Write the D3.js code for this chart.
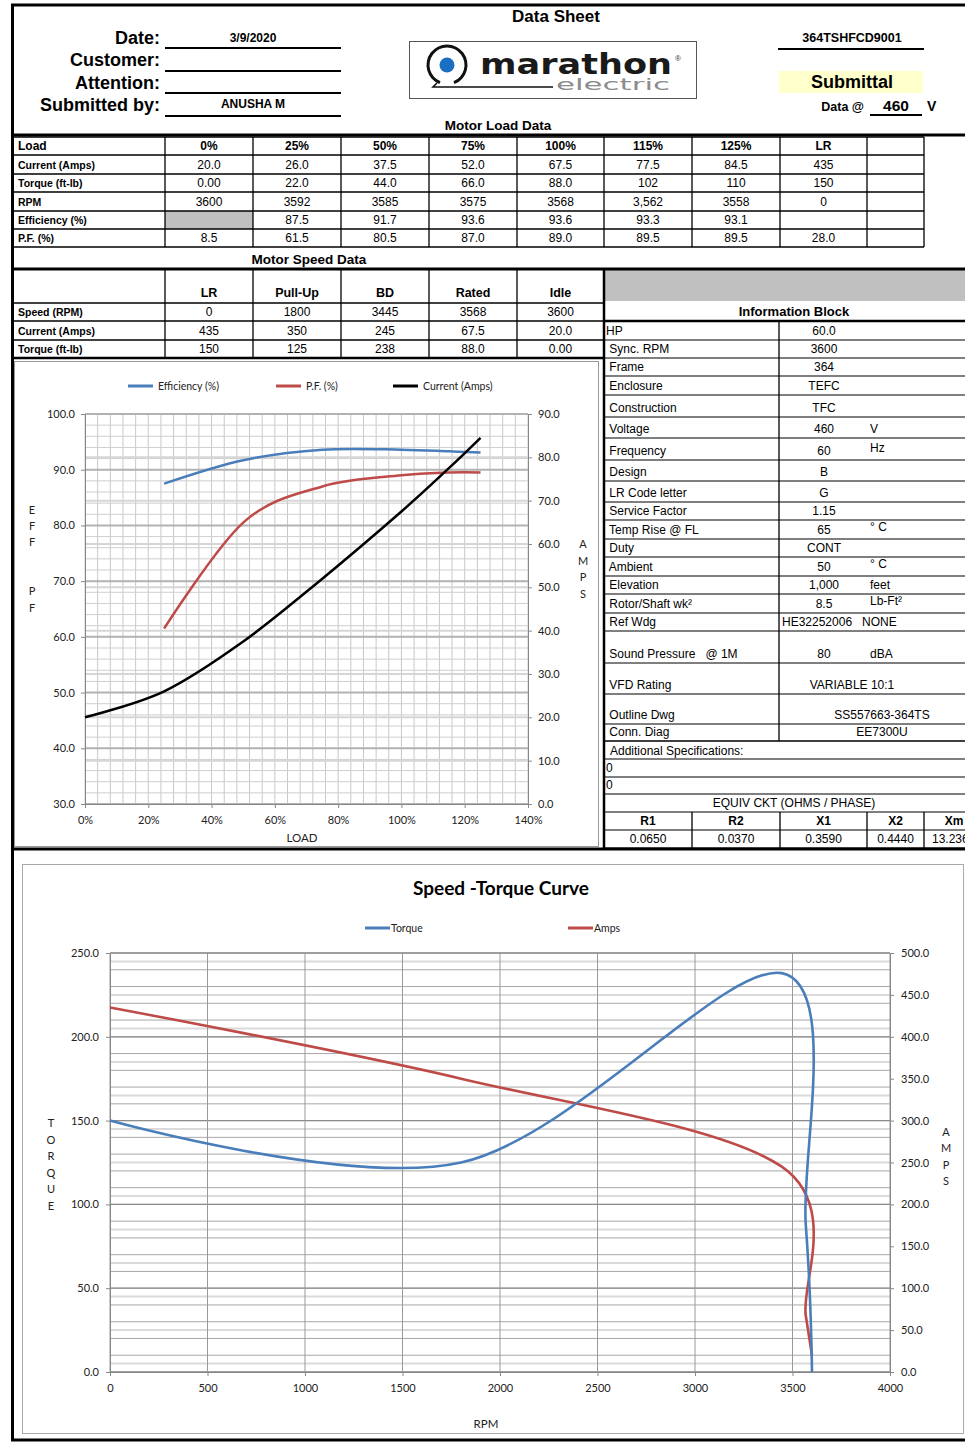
<!DOCTYPE html>
<html>
<head>
<meta charset="utf-8">
<script src="https://cdn.jsdelivr.net/npm/d3@7"></script>
<style>
  body { margin: 0; background: #fff; }
  svg { display: block; }
</style>
</head>
<body>
<div id="sheet"></div>
<script>
// header fields
var sheetDate = "3/9/2020";
var submittedBy = "ANUSHA M";
var modelNo = "364TSHFCD9001";
var dataVolts = "460";

// motor load data (table strings, charts read them as numbers)
var loadCols = ["0%", "25%", "50%", "75%", "100%", "115%", "125%", "LR"];
var loadFrac = [0, 0.25, 0.5, 0.75, 1.0, 1.15, 1.25, null];
var loadCurrent = ["20.0", "26.0", "37.5", "52.0", "67.5", "77.5", "84.5", "435"];
var loadTorque = ["0.00", "22.0", "44.0", "66.0", "88.0", "102", "110", "150"];
var loadRpm = ["3600", "3592", "3585", "3575", "3568", "3,562", "3558", "0"];
var loadEff = ["", "87.5", "91.7", "93.6", "93.6", "93.3", "93.1", ""];
var loadPF = ["8.5", "61.5", "80.5", "87.0", "89.0", "89.5", "89.5", "28.0"];

// motor speed data
var speedCols = ["LR", "Pull-Up", "BD", "Rated", "Idle"];
var speedRpm = ["0", "1800", "3445", "3568", "3600"];
var speedAmps = ["435", "350", "245", "67.5", "20.0"];
var speedTorque = ["150", "125", "238", "88.0", "0.00"];

// information block
var infoLabels = ["HP", " Sync. RPM", " Frame", " Enclosure", " Construction", " Voltage", " Frequency", " Design",
  " LR Code letter", " Service Factor", " Temp Rise @ FL", " Duty", " Ambient", " Elevation", " Rotor/Shaft wk\u00b2",
  " Ref Wdg", " Sound Pressure   @ 1M", " VFD Rating", " Outline Dwg", " Conn. Diag"];
var infoValues = ["60.0", "3600", "364", "TEFC", "TFC", "460", "60", "B", "G", "1.15", "65", "CONT", "50", "1,000", "8.5",
  "HE32252006   NONE", "80", "VARIABLE 10:1", "SS557663-364TS", "EE7300U"];
var infoUnits = ["", "", "", "", "", "V", "Hz", "", "", "", "\u00b0 C", "", "\u00b0 C", "feet", "Lb-Ft\u00b2", "", "dBA", "", "", ""];
var extraSpecs = ["0", "0"];
var ckLabels = ["R1", "R2", "X1", "X2", "Xm"];
var ckValues = ["0.0650", "0.0370", "0.3590", "0.4440", "13.236"];

// chart ticks
var effTicks = [30, 40, 50, 60, 70, 80, 90, 100];
var amp1Ticks = [0, 10, 20, 30, 40, 50, 60, 70, 80, 90];
var loadTicks = [0, 0.2, 0.4, 0.6, 0.8, 1.0, 1.2, 1.4];
var torqueTicks = [0, 50, 100, 150, 200, 250];
var amp2Ticks = [0, 50, 100, 150, 200, 250, 300, 350, 400, 450, 500];
var rpmTicks = [0, 500, 1000, 1500, 2000, 2500, 3000, 3500, 4000];

var W = 965, H = 1442;
var narrow = "'Liberation Sans Narrow','Arial Narrow',sans-serif";
var arial = "'Liberation Sans',Arial,sans-serif";
var calib = "Lato,'Open Sans',sans-serif";
var blue = "#4a7ebb", red = "#be4b48";

var svg = d3.select("#sheet").append("svg")
  .attr("width", W)
  .attr("height", H);

function txt(g, x, y, s, o) {
  o = o || {};
  return g.append("text")
    .attr("x", x).attr("y", y)
    .attr("text-anchor", o.anchor || "start")
    .attr("font-family", o.font || narrow)
    .attr("font-size", o.size || 12)
    .attr("font-weight", o.bold ? "bold" : "normal")
    .attr("fill", o.fill || "#000")
    .text(s);
}

function hline(g, x1, x2, y, w, c) {
  g.append("line").attr("x1", x1).attr("x2", x2).attr("y1", y).attr("y2", y)
    .attr("stroke", c || "#000").attr("stroke-width", w || 1);
}
function vline(g, x, y1, y2, w, c) {
  g.append("line").attr("x1", x).attr("x2", x).attr("y1", y1).attr("y2", y2)
    .attr("stroke", c || "#000").attr("stroke-width", w || 1);
}

// ---------------- header ----------------
var hd = svg.append("g");
txt(hd, 556, 22, "Data Sheet", { anchor: "middle", size: 17, bold: true });
[["Date:", 44, 48], ["Customer:", 66, 71], ["Attention:", 89, 93], ["Submitted by:", 111, 116]].forEach(function(r) {
  txt(hd, 160, r[1], r[0], { anchor: "end", size: 18, bold: true });
  hline(hd, 165, 341, r[2], 2);
});
txt(hd, 253, 42, sheetDate, { anchor: "middle", size: 12, bold: true });
txt(hd, 253, 108, submittedBy, { anchor: "middle", size: 12, bold: true });

txt(hd, 852, 42, modelNo, { anchor: "middle", size: 12.5, bold: true });
hline(hd, 778, 924, 49, 2);
hd.append("rect").attr("x", 779).attr("y", 71).attr("width", 144).attr("height", 22).attr("fill", "#ffffcc");
txt(hd, 852, 88, "Submittal", { anchor: "middle", size: 18, bold: true });
txt(hd, 864, 111, "Data @", { anchor: "end", size: 12.5, bold: true });
txt(hd, 896, 111, dataVolts, { anchor: "middle", size: 15.5, bold: true });
hline(hd, 870, 922, 115, 2);
txt(hd, 927, 111, "V", { size: 14, bold: true });
txt(hd, 498, 130, "Motor Load Data", { anchor: "middle", size: 13.5, bold: true });

// logo
var logo = hd.append("g");
logo.append("rect").attr("x", 409.5).attr("y", 41.5).attr("width", 287).attr("height", 57)
  .attr("fill", "#fff").attr("stroke", "#555").attr("stroke-width", 1);
logo.append("path")
  .attr("transform", "translate(447,65)")
  .attr("d", d3.arc()({ innerRadius: 17.5, outerRadius: 20.5, startAngle: Math.PI * 1.12, endAngle: Math.PI * 2.88 }))
  .attr("fill", "#111");
logo.append("circle").attr("cx", 447).attr("cy", 65).attr("r", 7.5).attr("fill", "#1b6ec2");
logo.append("path").attr("d", "M437,83 L433,87 L553,87").attr("fill", "none").attr("stroke", "#111").attr("stroke-width", 1.6);
txt(logo, 480, 74, "marathon", { size: 29, bold: true, font: "'DejaVu Sans',sans-serif", fill: "#1a1a1a" })
  .attr("textLength", 192).attr("lengthAdjust", "spacingAndGlyphs");
txt(logo, 556, 90, "electric", { size: 15, font: "'DejaVu Sans',sans-serif", fill: "#8c8c8c" })
  .attr("textLength", 114).attr("lengthAdjust", "spacingAndGlyphs");
txt(logo, 675, 61, "\u00ae", { size: 8, font: arial, fill: "#333" });

// ---------------- motor load table ----------------
var lt = svg.append("g");
var colX = [15, 165, 253, 341, 429, 517, 604, 692, 780, 867, 924];
var loadRowY = [137, 155, 174, 192, 211, 229, 247];
var loadRows = [
  ["Load", loadCols],
  ["Current (Amps)", loadCurrent],
  ["Torque (ft-lb)", loadTorque],
  ["RPM", loadRpm],
  ["Efficiency (%)", loadEff],
  ["P.F. (%)", loadPF]
];
lt.append("rect").attr("x", colX[1]).attr("y", loadRowY[4]).attr("width", colX[2] - colX[1])
  .attr("height", loadRowY[5] - loadRowY[4]).attr("fill", "#c0c0c0");
loadRowY.forEach(function(y) { hline(lt, 13, 924, y, 1.3); });
colX.slice(1).forEach(function(x) { vline(lt, x, loadRowY[0], loadRowY[6], 1.3); });
loadRows.forEach(function(r, i) {
  var yb = loadRowY[i + 1] - 5;
  txt(lt, 18, yb, r[0], { size: i === 0 ? 12 : 10.5, bold: true });
  r[1].forEach(function(v, j) {
    txt(lt, (colX[j + 1] + colX[j + 2]) / 2, yb, v, { anchor: "middle", size: 12, bold: i === 0 });
  });
});
txt(lt, 309, 264, "Motor Speed Data", { anchor: "middle", size: 13.5, bold: true });

// ---------------- motor speed table ----------------
var st = svg.append("g");
var spRowY = [270, 303, 321, 340, 358];
[303, 321, 340].forEach(function(y) { hline(st, 13, 604, y, 1.3); });
colX.slice(1, 7).forEach(function(x) { vline(st, x, 270, 358, 1.3); });
speedCols.forEach(function(c, j) {
  txt(st, (colX[j + 1] + colX[j + 2]) / 2, 297, c, { anchor: "middle", size: 12.5, bold: true });
});
[["Speed (RPM)", speedRpm], ["Current (Amps)", speedAmps], ["Torque (ft-lb)", speedTorque]].forEach(function(r, i) {
  var yb = spRowY[i + 2] - 5;
  txt(st, 18, yb, r[0], { size: 10.5, bold: true });
  r[1].forEach(function(v, j) {
    txt(st, (colX[j + 1] + colX[j + 2]) / 2, yb, v, { anchor: "middle", size: 12 });
  });
});

// ---------------- information block ----------------
var ib = svg.append("g");
ib.append("rect").attr("x", 604).attr("y", 270).attr("width", 361).attr("height", 31).attr("fill", "#c0c0c0");
txt(ib, 794, 316, "Information Block", { anchor: "middle", size: 13, bold: true, font: arial });
var infoY = [321, 340, 358, 376, 395, 417, 438, 460, 481, 502, 520, 539, 557, 576, 594, 613, 631, 663, 694, 724, 741];
infoY.forEach(function(y, i) { hline(ib, 604, 965, y, i === 0 ? 2.5 : 1.2); });
vline(ib, 779, 321, 741, 1.3);
infoLabels.forEach(function(l, i) {
  var yb = infoY[i + 1] - 5;
  txt(ib, 606, yb, l, { size: 12, font: arial }).attr("xml:space", "preserve");
  var v = infoValues[i];
  if (v.indexOf("HE") === 0) {
    txt(ib, 782, yb, v, { size: 12, font: arial }).attr("xml:space", "preserve");
  } else if (v.indexOf("VARIABLE") === 0) {
    txt(ib, 852, yb, v, { anchor: "middle", size: 12, font: arial });
  } else if (v.length > 6) {
    txt(ib, 882, yb, v, { anchor: "middle", size: 12, font: arial });
  } else {
    txt(ib, 824, yb, v, { anchor: "middle", size: 12, font: arial });
  }
  var u = infoUnits[i];
  if (u) {
    var raised = (u === "Hz" || u.indexOf("\u00b0") === 0 || u.indexOf("Lb") === 0) ? 3 : 0;
    txt(ib, 870, yb - raised, u, { size: 12, font: arial });
  }
});
var specY = [741, 759, 777, 794, 812, 830, 848];
specY.forEach(function(y) { hline(ib, 604, 965, y, 1.2); });
txt(ib, 610, 755, "Additional Specifications:", { size: 12, font: arial });
extraSpecs.forEach(function(s, i) { txt(ib, 606, specY[i + 2] - 5, s, { size: 12, font: arial }); });
txt(ib, 794, 807, "EQUIV CKT (OHMS / PHASE)", { anchor: "middle", size: 12, font: arial });
var ckX = [604, 692, 780, 867, 924, 1005];
ckX.slice(1, 5).forEach(function(x) { vline(ib, x, 812, 848, 1.3); });
ckLabels.forEach(function(l, j) {
  var cx = j === 4 ? 954 : (ckX[j] + ckX[j + 1]) / 2;
  txt(ib, cx, 825, l, { anchor: "middle", size: 12, bold: true, font: arial });
  txt(ib, j === 4 ? 932 : cx, 843, ckValues[j], { anchor: j === 4 ? "start" : "middle", size: 12, font: arial });
});

// ---------------- chart 1: load performance ----------------
var c1 = svg.append("g");
c1.append("rect").attr("x", 14.5).attr("y", 361.5).attr("width", 584).attr("height", 485)
  .attr("fill", "none").attr("stroke", "#999").attr("stroke-width", 1);
var x1 = d3.scaleLinear().domain([0, 1.4]).range([85, 528]);
var yEff = d3.scaleLinear().domain([30, 100]).range([804, 414]);
var yAmp1 = d3.scaleLinear().domain([0, 90]).range([804, 414]);

var g1 = c1.append("g");
d3.range(0, 1.4001, 0.04).forEach(function(v) { vline(g1, x1(v), 414, 804, 1, "#c8c8c8"); });
d3.range(30, 100.01, 2).forEach(function(v) { hline(g1, 85, 528, yEff(v), 1, "#cfcfcf"); });
d3.range(0, 90.01, 10).forEach(function(v) { hline(g1, 85, 528, yAmp1(v), 2, "#d6d6d6"); });
effTicks.forEach(function(v) { hline(g1, 85, 528, yEff(v), 2, "#b3b3b3"); });

c1.append("g").attr("transform", "translate(0,804)")
  .call(d3.axisBottom(x1).tickValues(loadTicks).tickFormat(d3.format(".0%")).tickSize(4))
  .call(function(a) {
    a.selectAll("text").attr("font-family", calib).attr("font-size", 11).attr("fill", "#222").attr("dy", "1.2em");
    a.selectAll("line,path").attr("stroke", "#888");
  });
c1.append("g").attr("transform", "translate(85,0)")
  .call(d3.axisLeft(yEff).tickValues(effTicks).tickFormat(d3.format(".1f")).tickSize(4).tickSizeOuter(0))
  .call(function(a) {
    a.selectAll("text").attr("font-family", calib).attr("font-size", 11).attr("fill", "#222").attr("x", -10);
    a.selectAll("line,path").attr("stroke", "#888");
  });
c1.append("g").attr("transform", "translate(528,0)")
  .call(d3.axisRight(yAmp1).tickValues(amp1Ticks).tickFormat(d3.format(".1f")).tickSize(4).tickSizeOuter(0))
  .call(function(a) {
    a.selectAll("text").attr("font-family", calib).attr("font-size", 11).attr("fill", "#222").attr("x", 10);
    a.selectAll("line,path").attr("stroke", "#888");
  });

var smooth = d3.curveCardinal.tension(0);
var effPts = [], pfPts = [], curPts = [];
loadFrac.forEach(function(f, i) {
  if (f === null) return;
  curPts.push([f, +loadCurrent[i]]);
  if (f > 0) {
    effPts.push([f, +loadEff[i]]);
    pfPts.push([f, +loadPF[i]]);
  }
});
var lineEff = d3.line().x(function(d) { return x1(d[0]); }).y(function(d) { return yEff(d[1]); }).curve(smooth);
var lineAmp1 = d3.line().x(function(d) { return x1(d[0]); }).y(function(d) { return yAmp1(d[1]); }).curve(smooth);
c1.append("path").attr("d", lineEff(effPts)).attr("fill", "none").attr("stroke", blue).attr("stroke-width", 2.5);
c1.append("path").attr("d", lineEff(pfPts)).attr("fill", "none").attr("stroke", red).attr("stroke-width", 2.5);
c1.append("path").attr("d", lineAmp1(curPts)).attr("fill", "none").attr("stroke", "#000").attr("stroke-width", 2.5);

[["Efficiency (%)", blue, 128], ["P.F. (%)", red, 276], ["Current (Amps)", "#000", 393]].forEach(function(l) {
  hline(c1, l[2], l[2] + 25, 386, 3, l[1]);
  txt(c1, l[2] + 30, 390, l[0], { size: 10.5, font: calib, fill: "#222" });
});
["E", "F", "F"].forEach(function(c, i) { txt(c1, 32, 514 + i * 16, c, { anchor: "middle", size: 11, font: calib, fill: "#222" }); });
["P", "F"].forEach(function(c, i) { txt(c1, 32, 595 + i * 17, c, { anchor: "middle", size: 11, font: calib, fill: "#222" }); });
["A", "M", "P", "S"].forEach(function(c, i) { txt(c1, 583, 548 + i * 16.5, c, { anchor: "middle", size: 11, font: calib, fill: "#222" }); });
txt(c1, 302, 842, "LOAD", { anchor: "middle", size: 11.5, font: calib, fill: "#222" });

// ---------------- frame borders ----------------
var fr = svg.append("g");
hline(fr, 11, 965, 5, 3);
vline(fr, 12.5, 4, 1441, 3);
hline(fr, 11, 965, 1440, 3);
hline(fr, 11, 965, 135, 3);
hline(fr, 11, 965, 269, 3);
hline(fr, 11, 604, 358, 2.5);
vline(fr, 604, 269, 849, 2.5);
hline(fr, 11, 965, 849, 3);

// ---------------- chart 2: speed-torque curve ----------------
var c2 = svg.append("g");
c2.append("rect").attr("x", 22.5).attr("y", 864.5).attr("width", 941).attr("height", 569)
  .attr("fill", "none").attr("stroke", "#aaa").attr("stroke-width", 1);
txt(c2, 501, 895, "Speed -Torque Curve", { anchor: "middle", size: 19, bold: true, font: calib });

var x2 = d3.scaleLinear().domain([0, 4000]).range([110, 890]);
var yTq = d3.scaleLinear().domain([0, 250]).range([1372, 953]);
var yAmp2 = d3.scaleLinear().domain([0, 500]).range([1372, 953]);

var g2 = c2.append("g");
d3.range(10, 500, 40).forEach(function(v) { hline(g2, 110, 890, yAmp2(v), 2, "#dadada"); });
d3.range(0, 250.01, 10).forEach(function(v) { hline(g2, 110, 890, yTq(v), 1, "#a8a8a8"); });
torqueTicks.forEach(function(v) { hline(g2, 110, 890, yTq(v), 1.3, "#8c8c8c"); });
rpmTicks.forEach(function(v) { vline(g2, x2(v), 953, 1372, 1, "#999"); });

c2.append("g").attr("transform", "translate(0,1372)")
  .call(d3.axisBottom(x2).tickValues(rpmTicks).tickFormat(d3.format("d")).tickSize(4))
  .call(function(a) {
    a.selectAll("text").attr("font-family", calib).attr("font-size", 11).attr("fill", "#222").attr("dy", "1.2em");
    a.selectAll("line,path").attr("stroke", "#888");
  });
c2.append("g").attr("transform", "translate(110,0)")
  .call(d3.axisLeft(yTq).tickValues(torqueTicks).tickFormat(d3.format(".1f")).tickSize(4).tickSizeOuter(0))
  .call(function(a) {
    a.selectAll("text").attr("font-family", calib).attr("font-size", 11).attr("fill", "#222").attr("x", -11);
    a.selectAll("line,path").attr("stroke", "#888");
  });
c2.append("g").attr("transform", "translate(890,0)")
  .call(d3.axisRight(yAmp2).tickValues(amp2Ticks).tickFormat(d3.format(".1f")).tickSize(4).tickSizeOuter(0))
  .call(function(a) {
    a.selectAll("text").attr("font-family", calib).attr("font-size", 11).attr("fill", "#222").attr("x", 11);
    a.selectAll("line,path").attr("stroke", "#888");
  });

var tqPts = speedRpm.map(function(r, i) { return [+r, +speedTorque[i]]; });
var ampPts = speedRpm.map(function(r, i) { return [+r, +speedAmps[i]]; });
var lineTq = d3.line().x(function(d) { return x2(d[0]); }).y(function(d) { return yTq(d[1]); }).curve(smooth);
var lineAmp2 = d3.line().x(function(d) { return x2(d[0]); }).y(function(d) { return yAmp2(d[1]); }).curve(smooth);
c2.append("path").attr("d", lineAmp2(ampPts)).attr("fill", "none").attr("stroke", red).attr("stroke-width", 2.6);
c2.append("path").attr("d", lineTq(tqPts)).attr("fill", "none").attr("stroke", blue).attr("stroke-width", 2.6);

[["Torque", blue, 365], ["Amps", red, 568]].forEach(function(l) {
  hline(c2, l[2], l[2] + 25, 928, 3, l[1]);
  txt(c2, l[2] + 26, 932, l[0], { size: 10.5, font: calib, fill: "#222" });
});
["T", "O", "R", "Q", "U", "E"].forEach(function(c, i) {
  txt(c2, 51, 1127 + i * 16.6, c, { anchor: "middle", size: 11, font: calib, fill: "#222" });
});
["A", "M", "P", "S"].forEach(function(c, i) {
  txt(c2, 946, 1136 + i * 16.4, c, { anchor: "middle", size: 11, font: calib, fill: "#222" });
});
txt(c2, 486, 1428, "RPM", { anchor: "middle", size: 11.5, font: calib, fill: "#222" });
</script>
</body>
</html>
